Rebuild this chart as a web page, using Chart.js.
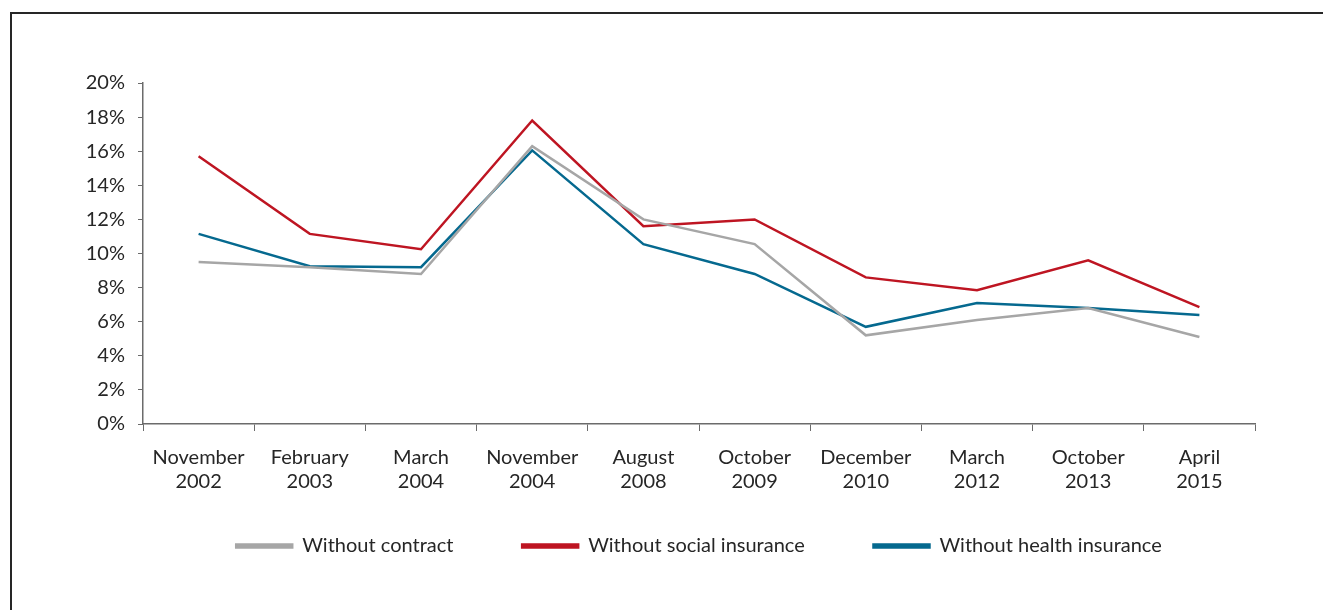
<!DOCTYPE html>
<html lang="en">
<head>
    <meta charset="UTF-8">
    <title>Informal employment</title>
    <script src="https://cdn.jsdelivr.net/npm/chart.js"></script>
    <style>
        html, body {
            margin: 0;
            padding: 0;
            background: #ffffff;
        }

        .wrap {
            position: relative;
            width: 1323px;
            height: 610px;
            overflow: hidden;
        }

        .frame {
            position: absolute;
            left: 10px;
            top: 12px;
            width: 1400px;
            height: 700px;
            border-left: 2px solid #262626;
            border-top: 2px solid #262626;
        }

        #chart {
            position: absolute;
            left: 0;
            top: 0;
        }
    </style>
</head>
<body>
    <div class="wrap">
        <div class="frame"></div>
        <canvas id="chart" width="1323" height="610"></canvas>
    </div>

    <script>
        // survey rounds (two-line labels)
        var periods = [
            ['November', '2002'], ['February', '2003'], ['March', '2004'], ['November', '2004'],
            ['August', '2008'], ['October', '2009'], ['December', '2010'], ['March', '2012'],
            ['October', '2013'], ['April', '2015']
        ];

        // share of workers, percent
        var withoutContract = [9.5, 9.2, 8.8, 16.3, 12.0, 10.55, 5.2, 6.1, 6.8, 5.1];
        var withoutSocial = [15.7, 11.15, 10.25, 17.8, 11.6, 12.0, 8.6, 7.85, 9.6, 6.85];
        var withoutHealth = [11.15, 9.25, 9.2, 16.05, 10.55, 8.8, 5.7, 7.1, 6.8, 6.4];

        var yTicks = [0, 2, 4, 6, 8, 10, 12, 14, 16, 18, 20];

        var textColor = '#262626';
        var axisColor = '#6b6b6b';
        var fontFamily = 'Lato, "Liberation Sans", sans-serif';

        var ctx = document.getElementById('chart').getContext('2d');

        new Chart(ctx, {
            type: 'line',
            data: {
                labels: periods,
                datasets: [{
                    label: 'Without contract',
                    data: withoutContract,
                    borderColor: '#a6a6a6',
                    backgroundColor: '#a6a6a6'
                }, {
                    label: 'Without social insurance',
                    data: withoutSocial,
                    borderColor: '#be1522',
                    backgroundColor: '#be1522'
                }, {
                    label: 'Without health insurance',
                    data: withoutHealth,
                    borderColor: '#05698f',
                    backgroundColor: '#05698f'
                }]
            },
            options: {
                responsive: false,
                animation: false,
                elements: {
                    line: { borderWidth: 2.5, tension: 0 },
                    point: { radius: 0, hoverRadius: 0 }
                },
                layout: {
                    padding: { left: 0, right: 68, top: 83, bottom: 44 }
                },
                scales: {
                    x: {
                        offset: true,
                        grid: {
                            offset: true,
                            drawOnChartArea: false,
                            drawTicks: true,
                            tickLength: 7,
                            color: axisColor
                        },
                        border: { display: true, color: axisColor, width: 1.5 },
                        ticks: {
                            color: textColor,
                            padding: 15,
                            maxRotation: 0,
                            autoSkip: false,
                            font: { family: fontFamily, size: 20, lineHeight: 1.2 }
                        },
                        afterFit: function (scale) {
                            scale.height = 74;
                        }
                    },
                    y: {
                        min: 0,
                        max: 20,
                        afterBuildTicks: function (scale) {
                            scale.ticks = yTicks.map(function (v) { return { value: v }; });
                        },
                        grid: {
                            drawOnChartArea: false,
                            drawTicks: true,
                            tickLength: 5,
                            color: axisColor
                        },
                        border: { display: true, color: axisColor, width: 1.5 },
                        ticks: {
                            color: textColor,
                            padding: 13,
                            font: { family: fontFamily, size: 20 },
                            callback: function (v) { return v + '%'; }
                        },
                        afterFit: function (scale) {
                            scale.width = 143;
                        }
                    }
                },
                plugins: {
                    tooltip: { enabled: false },
                    legend: {
                        position: 'bottom',
                        fullSize: false,
                        labels: {
                            color: textColor,
                            boxWidth: 56,
                            boxHeight: 3,
                            padding: 38,
                            font: { family: fontFamily, size: 20 },
                            // widen the gap between items without adding vertical space
                            generateLabels: function (chart) {
                                var items = Chart.defaults.plugins.legend.labels.generateLabels(chart);
                                items.forEach(function (item, i) {
                                    if (i < items.length - 1) item.text += '      ';
                                });
                                return items;
                            }
                        }
                    }
                }
            }
        });
    </script>
</body>
</html>
